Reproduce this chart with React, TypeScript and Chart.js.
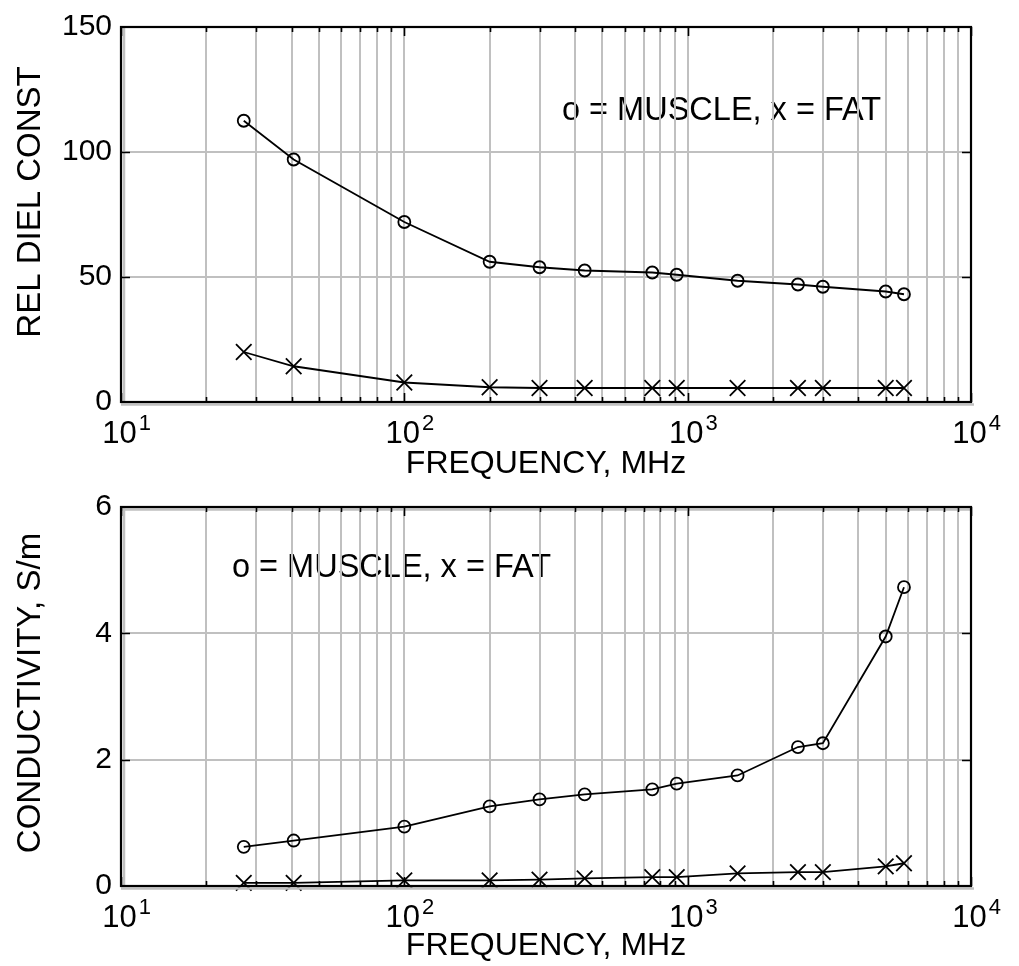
import React, { useEffect, useRef } from 'react';
import { Chart, registerables } from 'chart.js';

Chart.register(...registerables);

// ---- data ----
const frequencies = [27.12, 40.68, 100, 200, 300, 433, 750, 915, 1500, 2450, 3000, 5000, 5800];
const muscleDielectric = [112.5, 97, 72, 56.1, 53.9, 52.6, 51.8, 50.9, 48.5, 47.0, 46.1, 44.2, 43.1];
const fatDielectric = [20.0, 14.3, 7.8, 5.9, 5.6, 5.6, 5.6, 5.6, 5.6, 5.6, 5.6, 5.6, 5.6];
const muscleConductivity = [0.62, 0.72, 0.94, 1.26, 1.37, 1.45, 1.53, 1.62, 1.75, 2.2, 2.26, 3.95, 4.73];
const fatConductivity = [0.05, 0.05, 0.09, 0.09, 0.1, 0.12, 0.14, 0.14, 0.2, 0.22, 0.22, 0.31, 0.36];

const xDecades = [10, 100, 1000, 10000];
const xDecadeExponents = ['1', '2', '3', '4'];
const xMinorMultipliers = [1, 2, 3, 4, 5, 6, 7, 8, 9];

const xTitle = 'FREQUENCY, MHz';
const topYTitle = 'REL DIEL CONST';
const bottomYTitle = 'CONDUCTIVITY, S/m';
const legendText = 'o = MUSCLE, x = FAT';

const FONT = '"Liberation Sans", Arial, Helvetica, sans-serif';

const xGridValues: number[] = [];
for (let d = 0; d < xDecades.length - 1; d++) {
  for (const m of xMinorMultipliers) xGridValues.push(xDecades[d] * m);
}
xGridValues.push(xDecades[xDecades.length - 1]);

function toPoints(vals: number[]) {
  return frequencies.map((f, i) => ({ x: f, y: vals[i] }));
}

function isDecade(v: number) {
  const l = Math.log10(v);
  return Math.abs(l - Math.round(l)) < 1e-9;
}

function framePlugin(opts: {
  legendX: number;
  legendY: number;
  topBand: boolean;
  yTitle: string;
  yTitleX: number;
  yTitleY: number;
}) {
  return {
    id: 'frame',
    beforeDraw(chart: any) {
      const ctx = chart.ctx;
      ctx.save();
      ctx.font = `32.5px ${FONT}`;
      ctx.fillStyle = '#000';
      ctx.textAlign = 'left';
      ctx.textBaseline = 'alphabetic';
      ctx.fillText(legendText, opts.legendX, opts.legendY);
      // y title
      ctx.translate(opts.yTitleX, opts.yTitleY);
      ctx.rotate(-Math.PI / 2);
      ctx.font = `33px ${FONT}`;
      ctx.textAlign = 'center';
      ctx.textBaseline = 'middle';
      ctx.fillText(opts.yTitle, 0, 0);
      ctx.restore();
    },
    afterDraw(chart: any) {
      const ctx = chart.ctx;
      const { left, right, top, bottom } = chart.chartArea;
      const xs = chart.scales.x;
      const ys = chart.scales.y;
      ctx.save();
      // grey offset bands
      ctx.strokeStyle = '#c0c0c0';
      ctx.lineWidth = 2.5;
      ctx.beginPath();
      ctx.moveTo(left + 3, top);
      ctx.lineTo(left + 3, bottom);
      ctx.moveTo(left, bottom + 2.5);
      ctx.lineTo(right + 3, bottom + 2.5);
      if (opts.topBand) {
        ctx.moveTo(left, top + 2.5);
        ctx.lineTo(right, top + 2.5);
      }
      ctx.stroke();
      // black frame
      ctx.strokeStyle = '#000';
      ctx.lineWidth = 2.2;
      ctx.strokeRect(left, top, right - left, bottom - top);
      // inward ticks
      ctx.lineWidth = 1.6;
      ctx.beginPath();
      for (const t of xs.ticks) {
        const px = Math.round(xs.getPixelForValue(t.value)) + 0.5;
        const len = isDecade(t.value) ? 9 : 5;
        ctx.moveTo(px, bottom);
        ctx.lineTo(px, bottom - len);
        ctx.moveTo(px, top);
        ctx.lineTo(px, top + len);
      }
      for (const t of ys.ticks) {
        if (t.value === ys.min || t.value === ys.max) continue;
        const py = Math.round(ys.getPixelForValue(t.value)) + 0.5;
        ctx.moveTo(left, py);
        ctx.lineTo(left + 9, py);
        ctx.moveTo(right, py);
        ctx.lineTo(right - 9, py);
      }
      ctx.stroke();
      // decade labels 10^n
      ctx.fillStyle = '#000';
      ctx.textBaseline = 'alphabetic';
      xDecades.forEach((v, i) => {
        const px = xs.getPixelForValue(v) - 1.5;
        ctx.font = `31px ${FONT}`;
        ctx.textAlign = 'center';
        ctx.fillText('10', px, bottom + 41);
        const w = ctx.measureText('10').width;
        ctx.font = `22px ${FONT}`;
        ctx.textAlign = 'left';
        ctx.fillText(xDecadeExponents[i], px + w / 2 + 2, bottom + 28);
      });
      ctx.restore();
    },
  };
}

function makeConfig(
  muscle: number[],
  fat: number[],
  yMax: number,
  yStep: number,
  canvasHeight: number,
  plotTop: number,
  plotBottom: number,
  titleBottomPad: number,
  frame: {
    legendX: number;
    legendY: number;
    topBand: boolean;
    yTitle: string;
    yTitleX: number;
    yTitleY: number;
  }
): any {
  return {
    type: 'line',
    data: {
      datasets: [
        {
          label: 'MUSCLE',
          data: toPoints(muscle),
          borderColor: '#000',
          borderWidth: 1.8,
          pointStyle: 'circle',
          pointRadius: 6,
          pointBorderWidth: 1.8,
          pointBorderColor: '#000',
          pointBackgroundColor: 'rgba(0,0,0,0)',
          tension: 0,
          fill: false,
        },
        {
          label: 'FAT',
          data: toPoints(fat),
          borderColor: '#000',
          borderWidth: 1.8,
          pointStyle: 'crossRot',
          pointRadius: 11,
          pointBorderWidth: 1.8,
          pointBorderColor: '#000',
          pointBackgroundColor: 'rgba(0,0,0,0)',
          tension: 0,
          fill: false,
        },
      ],
    },
    options: {
      animation: false,
      responsive: false,
      devicePixelRatio: 1,
      clip: false,
      layout: { padding: { left: 0, right: 1019 - 971, top: plotTop, bottom: 0 } },
      plugins: { legend: { display: false }, tooltip: { enabled: false } },
      scales: {
        x: {
          type: 'logarithmic',
          min: 10,
          max: 10000,
          afterBuildTicks: (axis: any) => {
            axis.ticks = xGridValues.map((v) => ({ value: v }));
          },
          afterFit: (axis: any) => {
            axis.height = canvasHeight - plotBottom;
          },
          ticks: { display: false },
          grid: { color: '#c0c0c0', lineWidth: 2, drawTicks: false },
          border: { display: false },
          title: {
            display: true,
            text: xTitle,
            color: '#000',
            font: { size: 32, family: FONT },
            padding: { top: 0, bottom: titleBottomPad },
          },
        },
        y: {
          type: 'linear',
          min: 0,
          max: yMax,
          afterFit: (axis: any) => {
            axis.width = 121;
          },
          ticks: {
            stepSize: yStep,
            color: '#000',
            font: { size: 30, family: FONT },
            padding: 9,
          },
          grid: { color: '#c0c0c0', lineWidth: 2, drawTicks: false },
          border: { display: false },
          title: { display: false },
        },
      },
    },
    plugins: [framePlugin(frame)],
  };
}

function Plot(props: { config: () => any; top: number; height: number }) {
  const ref = useRef<HTMLCanvasElement | null>(null);
  useEffect(() => {
    if (!ref.current) return;
    const chart = new Chart(ref.current, props.config());
    return () => chart.destroy();
  }, []);
  return (
    <canvas
      ref={ref}
      width={1019}
      height={props.height}
      style={{ position: 'absolute', left: 0, top: props.top, width: 1019, height: props.height, display: 'block' }}
    />
  );
}

export default function App() {
  return (
    <div style={{ position: 'fixed', left: 0, top: 0, width: 1019, height: 966, background: '#fff', overflow: 'hidden' }}>
      <Plot
        top={0}
        height={483}
        config={() =>
          makeConfig(muscleDielectric, fatDielectric, 150, 50, 483, 18, 402, 0, {
            legendX: 562,
            legendY: 120,
            topBand: false,
            yTitle: topYTitle,
            yTitleX: 31,
            yTitleY: 202,
          })
        }
      />
      <Plot
        top={480}
        height={486}
        config={() =>
          makeConfig(muscleConductivity, fatConductivity, 6, 2, 486, 18, 406, 1, {
            legendX: 232,
            legendY: 97,
            topBand: true,
            yTitle: bottomYTitle,
            yTitleX: 31,
            yTitleY: 213,
          })
        }
      />
    </div>
  );
}
